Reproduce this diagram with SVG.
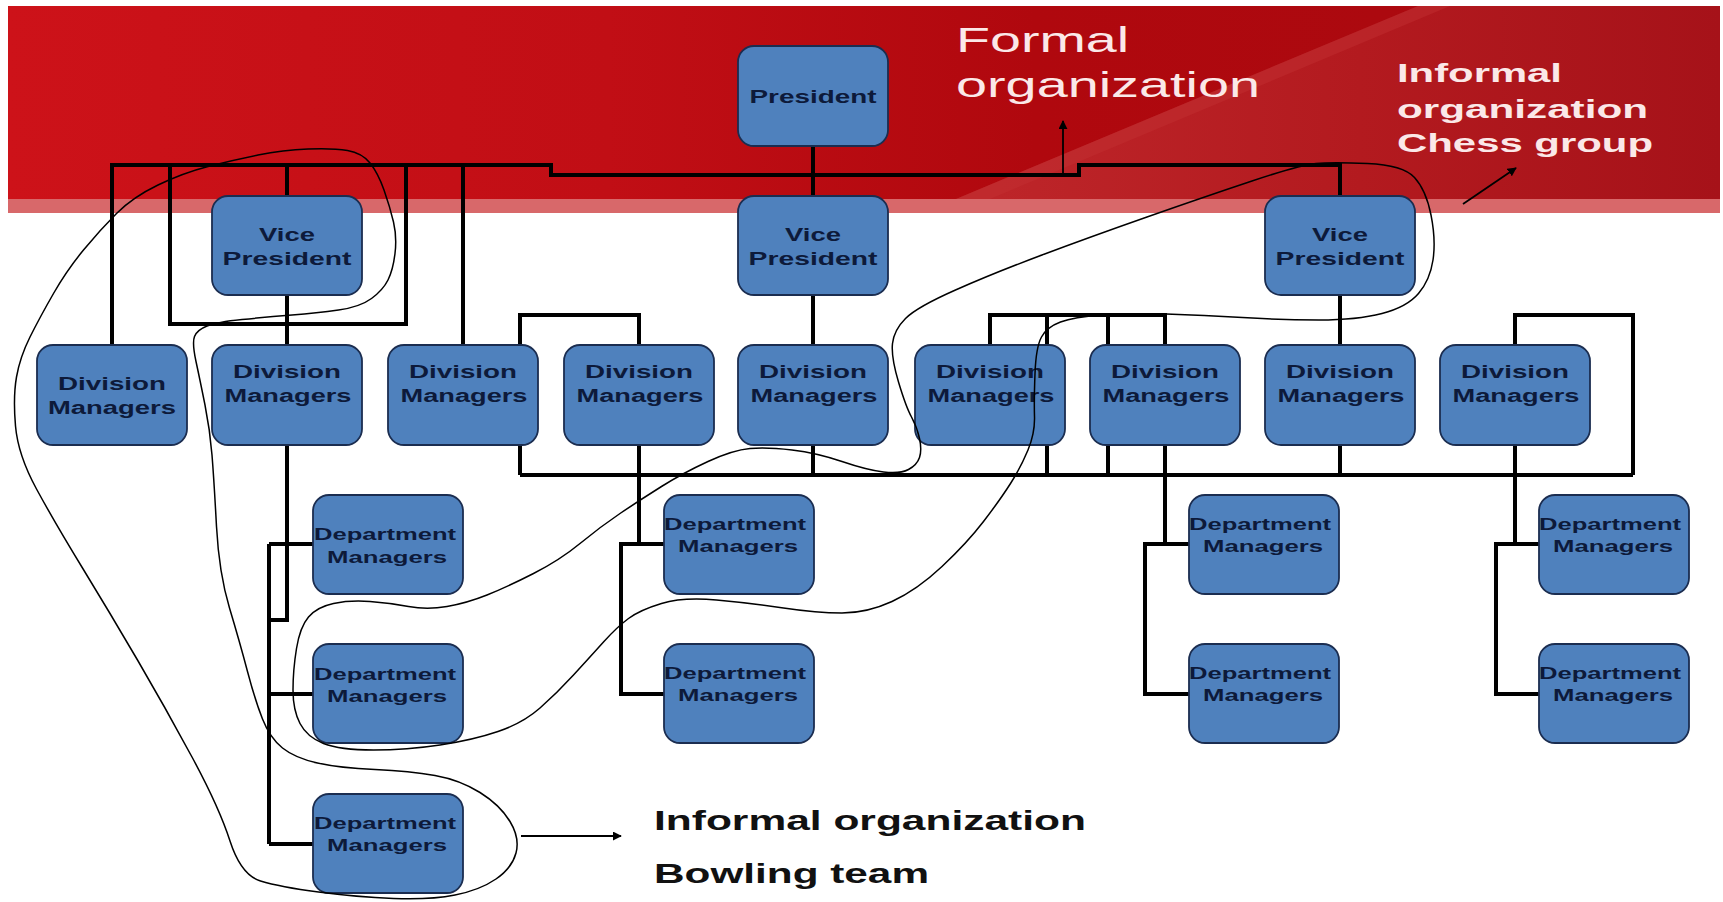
<svg xmlns="http://www.w3.org/2000/svg" width="1723" height="902" viewBox="0 0 1723 902">
  <style>
    .box { fill: #4f81bd; stroke: #1b2d50; stroke-width: 1.8; }
    .lbl { font-family: "Liberation Sans", Arial, sans-serif; font-weight: bold; fill: #0d1a3a; text-anchor: middle; }
    .dv { font-size: 18px; }
    .dp { font-size: 16px; }
    .wire { fill: none; stroke: #000; stroke-width: 4; stroke-linejoin: miter; }
    .loop { fill: none; stroke: #000; stroke-width: 1.5; stroke-linejoin: round; }
    .pointer { fill: none; stroke: #000; stroke-width: 1.8; }
    .head-w { font-family: "Liberation Sans", Arial, sans-serif; fill: #fbe8e8; }
    .note { font-family: "Liberation Sans", Arial, sans-serif; font-weight: bold; fill: #111; font-size: 28px; }
  </style>
  <defs>
    <linearGradient id="band" gradientUnits="userSpaceOnUse" x1="8" y1="0" x2="1720" y2="0">
      <stop offset="0" stop-color="#cd1219"/>
      <stop offset="0.35" stop-color="#c10e15"/>
      <stop offset="0.6" stop-color="#b0080e"/>
      <stop offset="1" stop-color="#a80a10"/>
    </linearGradient>
    <linearGradient id="wedge" gradientUnits="userSpaceOnUse" x1="1000" y1="0" x2="1720" y2="0">
      <stop offset="0" stop-color="#bd2529"/>
      <stop offset="0.5" stop-color="#b31a1f"/>
      <stop offset="1" stop-color="#a61219"/>
    </linearGradient>
    <marker id="tip" viewBox="0 0 10 10" refX="9" refY="5" markerWidth="9" markerHeight="9" markerUnits="userSpaceOnUse" orient="auto">
      <path d="M0,0 L10,5 L0,10 Z" fill="#000"/>
    </marker>
  </defs>

  <rect width="1723" height="902" fill="#fff"/>

  <!-- header band -->
  <g id="header">
    <rect x="8" y="6" width="1712" height="193" fill="url(#band)"/>
    <polygon points="1418,6 1720,6 1720,199 956,199" fill="url(#wedge)"/>
    <polygon points="1418,6 1450,6 990,199 956,199" fill="#c43034" opacity="0.45"/>
    <rect x="8" y="199" width="1712" height="14" fill="#d8686a"/>
  </g>

  <!-- formal reporting lines -->
  <g id="connectors">
    <path class="wire" d="M112,345 V165 H551 V175 H1079 V165 H1340 V196"/>
    <path class="wire" d="M170,165 V324 H406 V165"/>
    <path class="wire" d="M287,165 V196 M463,165 V345 M813,146 V196"/>
    <path class="wire" d="M287,295 V345 M813,295 V345 M1340,295 V345"/>
    <path class="wire" d="M520,475 V315 H639 V345"/>
    <path class="wire" d="M990,345 V315 H1165 V345 M1047,315 V475 M1108,315 V475"/>
    <path class="wire" d="M1515,345 V315 H1633 V475"/>
    <path class="wire" d="M520,475 H1633"/>
    <path class="wire" d="M639,445 V544 M813,445 V475 M1165,445 V544 M1340,445 V475 M1515,445 V544"/>
    <path class="wire" d="M287,445 V620 H269 M269,544 V844 M269,544 H313 M269,694 H313 M269,844 H313"/>
    <path class="wire" d="M664,544 H621 V694 H664"/>
    <path class="wire" d="M1189,544 H1145 V694 H1189"/>
    <path class="wire" d="M1539,544 H1496 V694 H1539"/>
  </g>

  <!-- top level -->
  <g id="president">
    <rect class="box" x="738" y="46" width="150" height="100" rx="16"/>
    <text class="lbl dv" x="813" y="103" textLength="127" lengthAdjust="spacingAndGlyphs">President</text>
  </g>

  <g id="vp-left">
    <rect class="box" x="212" y="196" width="150" height="99" rx="16"/>
    <text class="lbl dv" x="287" y="241" textLength="56" lengthAdjust="spacingAndGlyphs">Vice</text>
    <text class="lbl dv" x="287" y="265" textLength="129" lengthAdjust="spacingAndGlyphs">President</text>
  </g>
  <g id="vp-mid">
    <rect class="box" x="738" y="196" width="150" height="99" rx="16"/>
    <text class="lbl dv" x="813" y="241" textLength="56" lengthAdjust="spacingAndGlyphs">Vice</text>
    <text class="lbl dv" x="813" y="265" textLength="129" lengthAdjust="spacingAndGlyphs">President</text>
  </g>
  <g id="vp-right">
    <rect class="box" x="1265" y="196" width="150" height="99" rx="16"/>
    <text class="lbl dv" x="1340" y="241" textLength="56" lengthAdjust="spacingAndGlyphs">Vice</text>
    <text class="lbl dv" x="1340" y="265" textLength="129" lengthAdjust="spacingAndGlyphs">President</text>
  </g>

  <!-- division level -->
  <g id="div-1">
    <rect class="box" x="37" y="345" width="150" height="100" rx="16"/>
    <text class="lbl dv" x="112" y="390" textLength="108" lengthAdjust="spacingAndGlyphs">Division</text>
    <text class="lbl dv" x="112" y="414" textLength="128" lengthAdjust="spacingAndGlyphs">Managers</text>
  </g>
  <g id="div-2">
    <rect class="box" x="212" y="345" width="150" height="100" rx="16"/>
    <text class="lbl dv" x="287" y="378" textLength="108" lengthAdjust="spacingAndGlyphs">Division</text>
    <text class="lbl dv" x="288" y="402" textLength="127" lengthAdjust="spacingAndGlyphs">Managers</text>
  </g>
  <g id="div-3">
    <rect class="box" x="388" y="345" width="150" height="100" rx="16"/>
    <text class="lbl dv" x="463" y="378" textLength="108" lengthAdjust="spacingAndGlyphs">Division</text>
    <text class="lbl dv" x="464" y="402" textLength="127" lengthAdjust="spacingAndGlyphs">Managers</text>
  </g>
  <g id="div-4">
    <rect class="box" x="564" y="345" width="150" height="100" rx="16"/>
    <text class="lbl dv" x="639" y="378" textLength="108" lengthAdjust="spacingAndGlyphs">Division</text>
    <text class="lbl dv" x="640" y="402" textLength="127" lengthAdjust="spacingAndGlyphs">Managers</text>
  </g>
  <g id="div-5">
    <rect class="box" x="738" y="345" width="150" height="100" rx="16"/>
    <text class="lbl dv" x="813" y="378" textLength="108" lengthAdjust="spacingAndGlyphs">Division</text>
    <text class="lbl dv" x="814" y="402" textLength="127" lengthAdjust="spacingAndGlyphs">Managers</text>
  </g>
  <g id="div-6">
    <rect class="box" x="915" y="345" width="150" height="100" rx="16"/>
    <text class="lbl dv" x="990" y="378" textLength="108" lengthAdjust="spacingAndGlyphs">Division</text>
    <text class="lbl dv" x="991" y="402" textLength="127" lengthAdjust="spacingAndGlyphs">Managers</text>
  </g>
  <g id="div-7">
    <rect class="box" x="1090" y="345" width="150" height="100" rx="16"/>
    <text class="lbl dv" x="1165" y="378" textLength="108" lengthAdjust="spacingAndGlyphs">Division</text>
    <text class="lbl dv" x="1166" y="402" textLength="127" lengthAdjust="spacingAndGlyphs">Managers</text>
  </g>
  <g id="div-8">
    <rect class="box" x="1265" y="345" width="150" height="100" rx="16"/>
    <text class="lbl dv" x="1340" y="378" textLength="108" lengthAdjust="spacingAndGlyphs">Division</text>
    <text class="lbl dv" x="1341" y="402" textLength="127" lengthAdjust="spacingAndGlyphs">Managers</text>
  </g>
  <g id="div-9">
    <rect class="box" x="1440" y="345" width="150" height="100" rx="16"/>
    <text class="lbl dv" x="1515" y="378" textLength="108" lengthAdjust="spacingAndGlyphs">Division</text>
    <text class="lbl dv" x="1516" y="402" textLength="127" lengthAdjust="spacingAndGlyphs">Managers</text>
  </g>

  <!-- department level -->
  <g id="dept-1a">
    <rect class="box" x="313" y="495" width="150" height="99" rx="16"/>
    <text class="lbl dp" x="385" y="540" textLength="142" lengthAdjust="spacingAndGlyphs">Department</text>
    <text class="lbl dp" x="387" y="563" textLength="120" lengthAdjust="spacingAndGlyphs">Managers</text>
  </g>
  <g id="dept-1b">
    <rect class="box" x="313" y="644" width="150" height="99" rx="16"/>
    <text class="lbl dp" x="385" y="680" textLength="142" lengthAdjust="spacingAndGlyphs">Department</text>
    <text class="lbl dp" x="387" y="702" textLength="120" lengthAdjust="spacingAndGlyphs">Managers</text>
  </g>
  <g id="dept-1c">
    <rect class="box" x="313" y="794" width="150" height="99" rx="16"/>
    <text class="lbl dp" x="385" y="829" textLength="142" lengthAdjust="spacingAndGlyphs">Department</text>
    <text class="lbl dp" x="387" y="851" textLength="120" lengthAdjust="spacingAndGlyphs">Managers</text>
  </g>
  <g id="dept-2a">
    <rect class="box" x="664" y="495" width="150" height="99" rx="16"/>
    <text class="lbl dp" x="735" y="530" textLength="142" lengthAdjust="spacingAndGlyphs">Department</text>
    <text class="lbl dp" x="738" y="552" textLength="120" lengthAdjust="spacingAndGlyphs">Managers</text>
  </g>
  <g id="dept-2b">
    <rect class="box" x="664" y="644" width="150" height="99" rx="16"/>
    <text class="lbl dp" x="735" y="679" textLength="142" lengthAdjust="spacingAndGlyphs">Department</text>
    <text class="lbl dp" x="738" y="701" textLength="120" lengthAdjust="spacingAndGlyphs">Managers</text>
  </g>
  <g id="dept-3a">
    <rect class="box" x="1189" y="495" width="150" height="99" rx="16"/>
    <text class="lbl dp" x="1260" y="530" textLength="142" lengthAdjust="spacingAndGlyphs">Department</text>
    <text class="lbl dp" x="1263" y="552" textLength="120" lengthAdjust="spacingAndGlyphs">Managers</text>
  </g>
  <g id="dept-3b">
    <rect class="box" x="1189" y="644" width="150" height="99" rx="16"/>
    <text class="lbl dp" x="1260" y="679" textLength="142" lengthAdjust="spacingAndGlyphs">Department</text>
    <text class="lbl dp" x="1263" y="701" textLength="120" lengthAdjust="spacingAndGlyphs">Managers</text>
  </g>
  <g id="dept-4a">
    <rect class="box" x="1539" y="495" width="150" height="99" rx="16"/>
    <text class="lbl dp" x="1610" y="530" textLength="142" lengthAdjust="spacingAndGlyphs">Department</text>
    <text class="lbl dp" x="1613" y="552" textLength="120" lengthAdjust="spacingAndGlyphs">Managers</text>
  </g>
  <g id="dept-4b">
    <rect class="box" x="1539" y="644" width="150" height="99" rx="16"/>
    <text class="lbl dp" x="1610" y="679" textLength="142" lengthAdjust="spacingAndGlyphs">Department</text>
    <text class="lbl dp" x="1613" y="701" textLength="120" lengthAdjust="spacingAndGlyphs">Managers</text>
  </g>

  <!-- hand-drawn group outlines -->
  <g id="informal-groups">
    <path id="bowling-loop" class="loop" d="M36.5,489 Q18,455 15.5,426 Q13,397 16.5,377 Q20,357 30,337 Q40,317 53.5,293.5 Q67,270 83.5,250 Q100,230 116.5,213.5 Q133,197 158,185 Q183,173 208,166.5 Q233,160 258,155 Q283,150 308,149 Q333,148 347.5,150.5 Q362,153 370,163 Q378,173 384,190 Q390,207 393.5,222 Q397,237 395,253.5 Q393,270 388,280 Q383,290 371.5,298.5 Q360,307 338.5,310 Q317,313 292,315 Q267,317 242,319.5 Q217,322 207,326 Q197,330 194.5,336.5 Q192,343 196,361.5 Q200,380 205,405 Q210,430 212,455 Q214,480 216.5,526.5 Q219,573 229.5,608 Q240,643 247.5,671.5 Q255,700 262.5,719 Q270,738 282.5,748 Q295,758 317.5,763 Q340,768 375,769.5 Q410,771 435,775.5 Q460,780 480,792.5 Q500,805 510,821.5 Q520,838 516,853 Q512,868 496,879 Q480,890 455,895 Q430,900 393.5,898.5 Q357,897 318.5,892 Q280,887 260.5,881 Q241,875 230,841 Q219,807 192,757 Q165,707 137.5,660 Q110,613 82.5,568 Q55,523 36.5,489 Z"/>
    <path id="chess-loop" class="loop" d="M1316,163.5 Q1332,162 1367.5,163.5 Q1403,165 1414.5,177.5 Q1426,190 1431,215 Q1436,240 1433,260 Q1430,280 1418.5,293.5 Q1407,307 1382,313.5 Q1357,320 1319,320 Q1281,320 1242.5,317.5 Q1204,315 1166,314 Q1128,313 1101,315 Q1074,317 1060.5,322 Q1047,327 1041.5,337 Q1036,347 1035,373.5 Q1034,400 1034.5,416.5 Q1035,433 1028,450 Q1021,467 1010.5,483.5 Q1000,500 983.5,521.5 Q967,543 942,566.5 Q917,590 892,601.5 Q867,613 842,613 Q817,613 783.5,608 Q750,603 716.5,600 Q683,597 661.5,603.5 Q640,610 628.5,618.5 Q617,627 603.5,642 Q590,657 573.5,675 Q557,693 540,708 Q523,723 498,731.5 Q473,740 440,745 Q407,750 373.5,750 Q340,750 323.5,743.5 Q307,737 300,723.5 Q293,710 293,690 Q293,670 296.5,648.5 Q300,627 308.5,617 Q317,607 333.5,603.5 Q350,600 370,601.5 Q390,603 408.5,606.5 Q427,610 447,606.5 Q467,603 487,595 Q507,587 533.5,573.5 Q560,560 580,543.5 Q600,527 620,513.5 Q640,500 661.5,486.5 Q683,473 708,461.5 Q733,450 750,448.5 Q767,447 792,450 Q817,453 842,461.5 Q867,470 883.5,472 Q900,474 908.5,469.5 Q917,465 919.5,457.5 Q922,450 919.5,438.5 Q917,427 911.5,417 Q906,407 898.5,382 Q891,357 892.5,343.5 Q894,330 905.5,318.5 Q917,307 955.5,290 Q994,273 1042,255 Q1090,237 1147,217 Q1204,197 1252,181 Q1300,165 1316,163.5 Z"/>
  </g>

  <!-- callout arrows -->
  <g id="pointers">
    <path class="pointer" d="M1063,175 V121" marker-end="url(#tip)"/>
    <path class="pointer" d="M1463,204 L1516,168" marker-end="url(#tip)"/>
    <path class="pointer" d="M521,836 H621" marker-end="url(#tip)"/>
  </g>

  <!-- captions -->
  <g id="captions">
    <text class="head-w" font-size="35" x="956" y="52" textLength="173" lengthAdjust="spacingAndGlyphs">Formal</text>
    <text class="head-w" font-size="35" x="956" y="97" textLength="304" lengthAdjust="spacingAndGlyphs">organization</text>
    <text class="head-w" font-size="25" font-weight="bold" fill="#fff" x="1397" y="82" textLength="165" lengthAdjust="spacingAndGlyphs">Informal</text>
    <text class="head-w" font-size="25" font-weight="bold" fill="#fff" x="1397" y="118" textLength="251" lengthAdjust="spacingAndGlyphs">organization</text>
    <text class="head-w" font-size="25" font-weight="bold" fill="#fff" x="1397" y="152" textLength="256" lengthAdjust="spacingAndGlyphs">Chess group</text>
    <text class="note" x="654" y="830" textLength="432" lengthAdjust="spacingAndGlyphs">Informal organization</text>
    <text class="note" x="654" y="883" textLength="275" lengthAdjust="spacingAndGlyphs">Bowling team</text>
  </g>
</svg>
